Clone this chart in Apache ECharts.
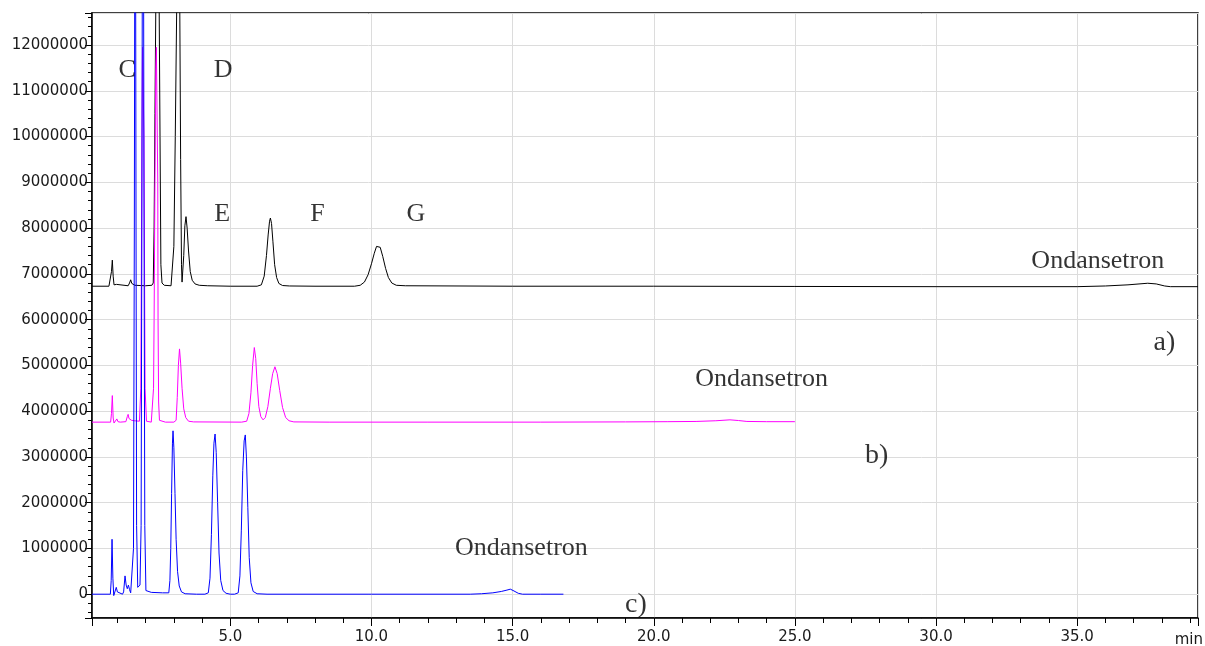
<!DOCTYPE html>
<html>
<head>
<meta charset="utf-8">
<title>Chromatograms</title>
<script src="https://cdn.jsdelivr.net/npm/echarts@6/dist/echarts.min.js"></script>
<style>
  html, body { margin: 0; padding: 0; background: #ffffff; }
  #chart { width: 1205px; height: 646px; }
</style>
</head>
<body>
<div id="chart"></div>
<script>
// Retention time (min) / detector response pairs for each run.

// a) black trace
const traceA = [
  [0.10, 6.73e6], [0.70, 6.73e6], [0.76, 6.75e6], [0.79, 7.05e6], [0.82, 7.30e6],
  [0.85, 6.95e6], [0.88, 6.76e6], [0.92, 6.74e6], [0.97, 6.77e6], [1.02, 6.74e6],
  [1.38, 6.74e6], [1.43, 6.80e6], [1.47, 6.87e6], [1.51, 6.79e6], [1.56, 6.76e6],
  [1.62, 6.75e6], [2.00, 6.74e6], [2.22, 6.75e6], [2.27, 6.80e6], [2.30, 8.0e6],
  [2.33, 10.5e6], [2.36, 12.8e6], [2.42, 16.0e6], [2.48, 12.8e6], [2.51, 10.0e6],
  [2.54, 7.2e6], [2.58, 6.80e6], [2.66, 6.75e6], [2.90, 6.74e6], [2.96, 6.78e6],
  [3.00, 7.6e6], [3.05, 10.0e6], [3.10, 12.8e6], [3.155, 18.0e6], [3.21, 12.8e6],
  [3.24, 9.5e6], [3.27, 7.2e6], [3.29, 6.82e6], [3.31, 6.85e6], [3.35, 7.4e6],
  [3.39, 8.05e6], [3.43, 8.25e6], [3.47, 8.0e6], [3.52, 7.5e6], [3.58, 7.05e6],
  [3.65, 6.86e6], [3.75, 6.78e6], [3.90, 6.75e6], [4.20, 6.74e6], [5.00, 6.73e6],
  [5.95, 6.73e6], [6.10, 6.76e6], [6.20, 6.95e6], [6.28, 7.4e6], [6.34, 7.85e6],
  [6.39, 8.15e6], [6.42, 8.22e6], [6.46, 8.1e6], [6.51, 7.7e6], [6.57, 7.2e6],
  [6.64, 6.92e6], [6.72, 6.79e6], [6.85, 6.745e6], [7.10, 6.735e6], [8.00, 6.73e6],
  [9.40, 6.73e6], [9.60, 6.75e6], [9.75, 6.82e6], [9.88, 6.98e6], [10.00, 7.22e6],
  [10.10, 7.45e6], [10.18, 7.60e6], [10.24, 7.64e6], [10.31, 7.58e6], [10.40, 7.38e6],
  [10.50, 7.12e6], [10.60, 6.92e6], [10.72, 6.80e6], [10.88, 6.75e6], [11.20, 6.74e6],
  [15.0, 6.73e6], [20.0, 6.73e6], [25.0, 6.725e6], [30.0, 6.72e6], [35.0, 6.72e6],
  [36.0, 6.735e6], [36.8, 6.76e6], [37.5, 6.795e6], [37.8, 6.78e6], [38.1, 6.735e6],
  [38.3, 6.72e6], [39.28, 6.72e6]
];

// b) magenta trace
const traceB = [
  [0.10, 3.76e6], [0.76, 3.76e6], [0.79, 3.95e6], [0.82, 4.34e6], [0.85, 3.85e6],
  [0.88, 3.74e6], [0.93, 3.76e6], [0.98, 3.83e6], [1.02, 3.77e6], [1.10, 3.76e6],
  [1.30, 3.77e6], [1.35, 3.88e6], [1.38, 3.93e6], [1.41, 3.84e6], [1.45, 3.82e6],
  [1.50, 3.80e6], [1.60, 3.79e6], [1.78, 3.78e6], [1.83, 4.5e6], [1.87, 10.0e6],
  [1.89, 11.95e6], [1.92, 11.95e6], [1.94, 10.0e6], [1.98, 4.5e6], [2.03, 3.78e6],
  [2.20, 3.76e6], [2.25, 3.78e6], [2.28, 4.5e6], [2.30, 6.0e6], [2.33, 9.0e6],
  [2.36, 11.5e6], [2.38, 11.95e6], [2.41, 11.95e6], [2.43, 9.0e6], [2.44, 6.0e6],
  [2.46, 4.2e6], [2.49, 3.80e6], [2.55, 3.77e6], [2.70, 3.76e6], [3.00, 3.76e6],
  [3.08, 3.80e6], [3.12, 4.3e6], [3.16, 5.0e6], [3.20, 5.36e6], [3.24, 5.05e6],
  [3.29, 4.5e6], [3.35, 4.05e6], [3.42, 3.86e6], [3.52, 3.78e6], [3.70, 3.765e6],
  [5.40, 3.76e6], [5.58, 3.78e6], [5.66, 3.95e6], [5.73, 4.4e6], [5.79, 5.0e6],
  [5.85, 5.39e6], [5.90, 5.15e6], [5.95, 4.6e6], [6.01, 4.1e6], [6.08, 3.88e6],
  [6.16, 3.81e6], [6.24, 3.86e6], [6.33, 4.1e6], [6.42, 4.5e6], [6.50, 4.82e6],
  [6.58, 4.97e6], [6.66, 4.82e6], [6.75, 4.45e6], [6.85, 4.08e6], [6.96, 3.86e6],
  [7.08, 3.79e6], [7.25, 3.765e6], [8.50, 3.76e6], [12.0, 3.76e6], [16.0, 3.76e6],
  [19.0, 3.765e6], [20.5, 3.77e6], [21.5, 3.775e6], [22.2, 3.79e6], [22.7, 3.81e6],
  [23.0, 3.795e6], [23.3, 3.775e6], [24.0, 3.77e6], [25.0, 3.77e6]
];

// c) blue trace
const traceC = [
  [0.10, 0], [0.75, 0], [0.78, 0.3e6], [0.81, 1.2e6], [0.84, 0.35e6],
  [0.87, -0.03e6], [0.91, -0.02e6], [0.96, 0.15e6], [1.00, 0.05e6], [1.05, 0.01e6],
  [1.18, 0], [1.22, 0.05e6], [1.27, 0.40e6], [1.31, 0.20e6], [1.35, 0.12e6],
  [1.39, 0.20e6], [1.43, 0.10e6], [1.47, 0.03e6], [1.53, 0.05e6], [1.57, 1.0e6],
  [1.60, 8.0e6], [1.63, 20.0e6], [1.66, 8.0e6], [1.68, 1.5e6], [1.72, 0.15e6],
  [1.76, 0.11e6], [1.80, 0.2e6], [1.84, 1.5e6], [1.87, 9.0e6], [1.905, 22.0e6],
  [1.94, 9.0e6], [1.97, 1.5e6], [2.01, 0.08e6], [2.20, 0.04e6], [2.60, 0.03e6],
  [2.82, 0.03e6], [2.86, 0.3e6], [2.89, 1.0e6], [2.92, 2.2e6], [2.95, 3.3e6],
  [2.97, 3.57e6], [3.00, 3.2e6], [3.04, 2.2e6], [3.08, 1.2e6], [3.13, 0.5e6],
  [3.19, 0.18e6], [3.27, 0.05e6], [3.40, 0.01e6], [3.80, 0], [4.10, 0],
  [4.22, 0.03e6], [4.28, 0.35e6], [4.33, 1.3e6], [4.38, 2.6e6], [4.42, 3.3e6],
  [4.46, 3.50e6], [4.50, 3.1e6], [4.55, 2.0e6], [4.60, 0.9e6], [4.66, 0.3e6],
  [4.74, 0.08e6], [4.85, 0.02e6], [5.00, 0], [5.15, 0], [5.28, 0.03e6],
  [5.34, 0.4e6], [5.39, 1.4e6], [5.44, 2.7e6], [5.49, 3.35e6], [5.53, 3.48e6],
  [5.57, 3.0e6], [5.62, 1.9e6], [5.67, 0.8e6], [5.73, 0.25e6], [5.81, 0.06e6],
  [5.95, 0.01e6], [6.30, 0], [10.0, 0], [13.5, 0], [13.9, 0.01e6],
  [14.3, 0.03e6], [14.6, 0.06e6], [14.8, 0.09e6], [14.92, 0.11e6], [15.05, 0.07e6],
  [15.20, 0.02e6], [15.35, 0], [16.0, 0], [16.8, 0]
];

// Peak letters and trace captions, placed at (time, response)
const peakLabels = [
  { name: 'C', value: [1.343, 11.46e6] },
  { name: 'D', value: [4.745, 11.46e6] },
  { name: 'E', value: [4.71, 8.31e6] },
  { name: 'F', value: [8.09, 8.31e6] },
  { name: 'G', value: [11.57, 8.31e6] },
  { name: 'Ondansetron', value: [35.73, 7.27e6] },
  { name: 'Ondansetron', value: [23.82, 4.69e6] },
  { name: 'Ondansetron', value: [15.31, 1.01e6] }
];
const traceTags = [
  { name: 'a)', value: [38.09, 5.50e6] },
  { name: 'b)', value: [27.90, 3.02e6] },
  { name: 'c)', value: [19.37, -0.22e6] }
];

const axisFont = 'DejaVu Sans';
const serifFont = '"Liberation Serif", "Times New Roman", serif';

const chart = echarts.init(document.getElementById('chart'), null, { renderer: 'canvas' });

chart.setOption({
  animation: false,
  backgroundColor: '#ffffff',
  grid: {
    left: 92, right: 7, top: 13, bottom: 28,
    show: true, borderColor: '#000', borderWidth: 1.5,
    backgroundColor: 'transparent'
  },
  xAxis: {
    type: 'value',
    min: 0.1,
    max: 39.28,
    minInterval: 5,
    maxInterval: 5,
    axisLine: { show: true, onZero: false, lineStyle: { color: '#000', width: 1.5 } },
    axisTick: { show: true, length: 8, lineStyle: { color: '#000', width: 1 } },
    minorTick: { show: true, splitNumber: 5, length: 5, lineStyle: { color: '#000', width: 1 } },
    splitLine: { show: true, lineStyle: { color: '#dcdcdc', width: 1 } },
    axisLabel: {
      show: true, margin: 12, showMinLabel: false, showMaxLabel: false,
      color: '#1a1a1a', fontFamily: axisFont, fontSize: 15,
      formatter: function (v) { return v.toFixed(1); }
    }
  },
  yAxis: {
    type: 'value',
    min: -0.52e6,
    max: 12.7e6,
    minInterval: 1e6,
    maxInterval: 1e6,
    axisLine: { show: true, onZero: false, lineStyle: { color: '#000', width: 1.5 } },
    axisTick: { show: true, length: 7, lineStyle: { color: '#000', width: 1 } },
    minorTick: { show: true, splitNumber: 5, length: 4, lineStyle: { color: '#000', width: 1 } },
    splitLine: { show: true, lineStyle: { color: '#dcdcdc', width: 1 } },
    axisLabel: {
      show: true, margin: 4, showMinLabel: false, showMaxLabel: false,
      color: '#1a1a1a', fontFamily: axisFont, fontSize: 15,
      formatter: function (v) { return String(Math.round(v)); }
    }
  },
  graphic: [{
    type: 'text',
    x: 1203, y: 640,
    style: {
      text: 'min', fill: '#1a1a1a',
      font: '15px "DejaVu Sans"',
      align: 'right', verticalAlign: 'middle'
    }
  }],
  series: [
    {
      name: 'a', type: 'line', data: traceA, showSymbol: false, symbol: 'none',
      clip: true, lineStyle: { color: '#000000', width: 1 }, z: 3
    },
    {
      name: 'b', type: 'line', data: traceB, showSymbol: false, symbol: 'none',
      clip: true, lineStyle: { color: '#ff00ff', width: 1 }, z: 4
    },
    {
      name: 'c', type: 'line', data: traceC, showSymbol: false, symbol: 'none',
      clip: true, lineStyle: { color: '#0000ff', width: 1 }, z: 5
    },
    {
      name: 'peak labels', type: 'scatter', data: peakLabels, symbolSize: 0,
      clip: false, z: 6, silent: true,
      label: {
        show: true, position: 'inside', formatter: '{b}',
        fontFamily: serifFont, fontSize: 26, color: '#000'
      }
    },
    {
      name: 'trace tags', type: 'scatter', data: traceTags, symbolSize: 0,
      clip: false, z: 6, silent: true,
      label: {
        show: true, position: 'inside', formatter: '{b}',
        fontFamily: serifFont, fontSize: 28, color: '#000'
      }
    }
  ]
});
</script>
</body>
</html>
